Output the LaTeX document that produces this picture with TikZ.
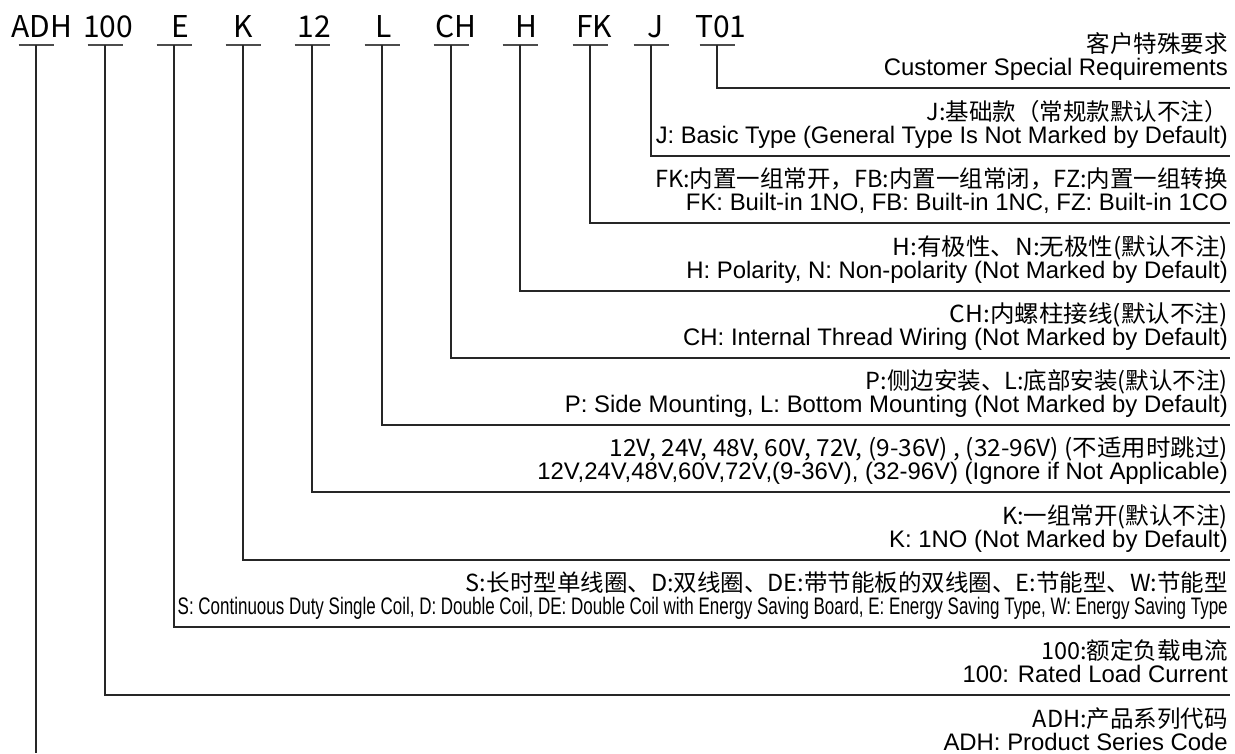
\documentclass[tikz,border=0pt]{standalone}
\usepackage{fontspec}
\setmainfont{Liberation Sans}
\newfontfamily\cjk{Noto Sans CJK SC}
\usepackage{graphicx}
\usetikzlibrary{calc}
\begin{document}
\begin{tikzpicture}[x=1pt,y=-1pt,
  code/.style={font=\cjk\fontsize{30}{30}\selectfont, anchor=base, inner sep=0pt},
  bar/.style={line width=1.7pt, draw=black!70},
  lead/.style={line width=1.3pt, draw=black!85},
  zh/.style={font=\cjk\fontsize{23.5}{23.5}\selectfont, anchor=base east, inner sep=0pt},
  en/.style={font=\fontsize{23.9}{23.9}\selectfont, anchor=base east, inner sep=0pt}]
\useasboundingbox[fill=white] (0,0) rectangle (1235,753);
% code letters
\node[code] (cADH) at (42,37) {ADH};
\node[code] (c100) at (108,37) {100};
\node[code] (cE) at (180,37) {E};
\node[code] (cK) at (243,37) {K};
\node[code] (c12) at (314,37) {12};
\node[code] (cL) at (384,37) {L};
\node[code] (cCH) at (456,37) {CH};
\node[code] (cH) at (526,37) {H};
\node[code] (cFK) at (594,37) {FK};
\node[code] (cJ) at (656,37) {J};
\node[code] (cT) at (721,37) {T01};
% bar centres
\foreach \n/\x in {ADH/36,100/105,E/174,K/243,12/312,L/382,CH/451,H/520,FK/590,J/651,T/717}{
  \coordinate (b\n) at (\x,45);
  \draw[bar] ($(b\n)+(-17.5,0)$) -- ($(b\n)+(17.5,0)$);
}
% line ends
\foreach \n/\y in {T/88,J/156,FK/223,H/291,CH/358,L/425,12/492,K/560,E/627,100/695}{
  \coordinate (e\n) at (1230,\y);
  \draw[lead] (b\n) |- (e\n);
}
\coordinate (eADH) at (36,753);
\draw[lead] (bADH) -- (eADH);
% texts
\node[zh] (zT) at (1228,52) {客户特殊要求};
\node[en] (nT) at (1228,75) {Customer Special Requirements};
\node[zh] (zJ) at (1228,120) {J:基础款（常规款默认不注）};
\node[en] (nJ) at (1228,143) {\resizebox{572pt}{\height}{J: Basic Type (General Type Is Not Marked by Default)}};
\node[zh] (zFK) at (1228,187) {FK:内置一组常开，FB:内置一组常闭，FZ:内置一组转换};
\node[en] (nFK) at (1228,210) {FK: Built-in 1NO, FB: Built-in 1NC, FZ: Built-in 1CO};
\node[zh] (zH) at (1228,255) {\resizebox{335pt}{\height}{H:有极性、N:无极性(默认不注)}};
\node[en] (nH) at (1228,278) {H: Polarity, N: Non-polarity (Not Marked by Default)};
\node[zh] (zCH) at (1228,322) {\resizebox{278pt}{\height}{CH:内螺柱接线(默认不注)}};
\node[en] (nCH) at (1228,345) {CH: Internal Thread Wiring (Not Marked by Default)};
\node[zh] (zL) at (1228,389) {P:侧边安装、L:底部安装(默认不注)};
\node[en] (nL) at (1228,412) {P: Side Mounting, L: Bottom Mounting (Not Marked by Default)};
\node[zh] (z12) at (1228,456) {\resizebox{618pt}{\height}{12V, 24V, 48V, 60V, 72V, (9-36V) , (32-96V) (不适用时跳过)}};
\node[en] (n12) at (1228,479) {12V,24V,48V,60V,72V,(9-36V), (32-96V) (Ignore if Not Applicable)};
\node[zh] (zK) at (1228,524) {K:一组常开(默认不注)};
\node[en] (nK) at (1228,547) {K: 1NO (Not Marked by Default)};
\node[zh] (zE) at (1228,591) {S:长时型单线圈、D:双线圈、DE:带节能板的双线圈、E:节能型、W:节能型};
\node[en] (nE) at (1228,614) {\resizebox{1050pt}{\height}{S: Continuous Duty Single Coil, D: Double Coil, DE: Double Coil with Energy Saving Board, E: Energy Saving Type, W: Energy Saving Type}};
\node[zh] (z100) at (1228,659) {100:额定负载电流};
\node[en] (n100) at (1228,682) {100: Rated Load Current};
\node[zh] (zADH) at (1228,727) {ADH:产品系列代码};
\node[en] (nADH) at (1228,750) {ADH: Product Series Code};
\end{tikzpicture}
\end{document}
